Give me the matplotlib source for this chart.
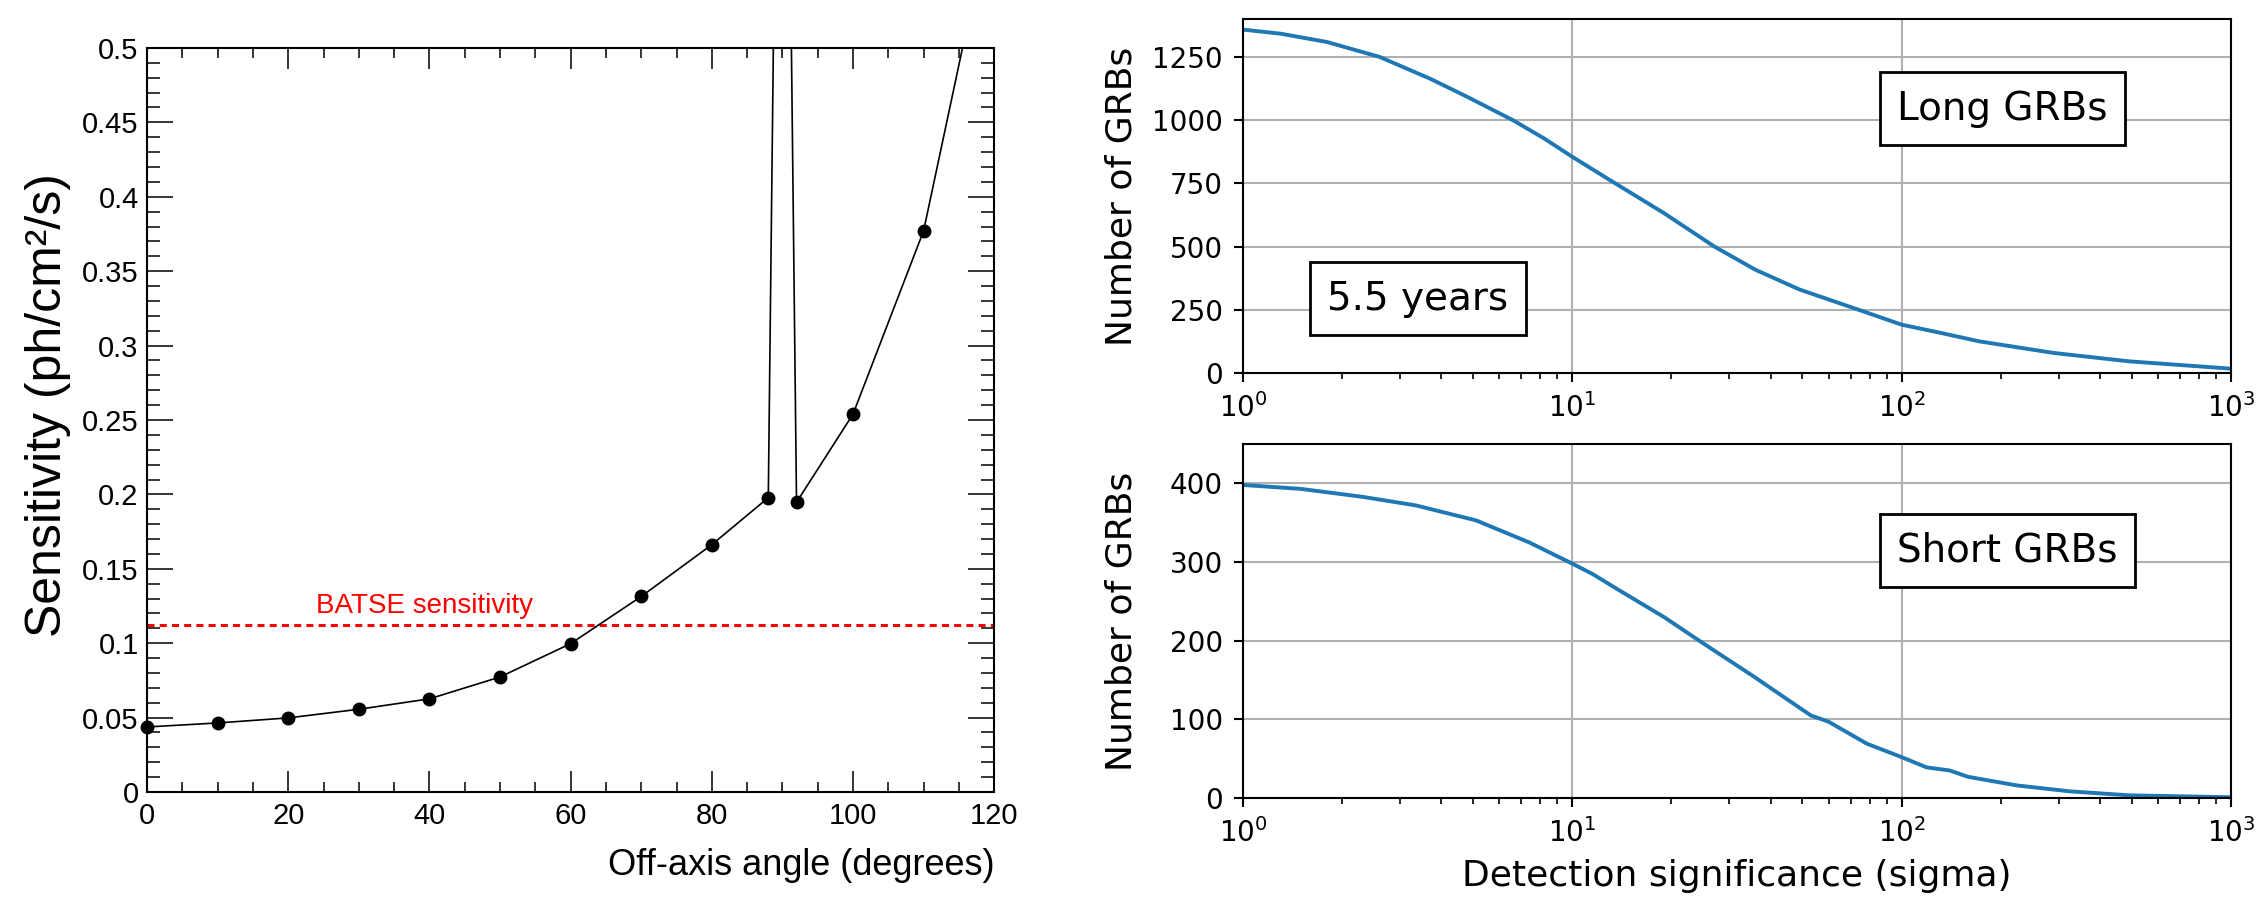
import matplotlib
matplotlib.use("Agg")
import matplotlib.pyplot as plt
import numpy as np
from matplotlib.ticker import FuncFormatter, MultipleLocator

# left panel: on-axis sensitivity vs off-axis angle
angle_deg = [0, 10, 20, 30, 40, 50, 60, 70, 80, 88, 90, 92, 100, 110, 120]
sensitivity = [0.0437, 0.0464, 0.0498, 0.0556, 0.0626, 0.0773, 0.0997, 0.1314,
               0.1662, 0.1978, 1.04, 0.1947, 0.2539, 0.3771, 0.60]
batse_level = 0.112

# right panels: cumulative number of GRBs above a detection significance
long_sigma = [1, 1.3, 1.8, 2.6, 3.7, 4.8, 6.6, 8.2, 10, 13.5, 19, 27, 36, 49,
              74, 100, 132, 172, 290, 490, 1000]
long_count = [1358, 1342, 1309, 1250, 1164, 1092, 1000, 928, 855, 750, 632,
              500, 408, 330, 250, 191, 158, 125, 79, 46, 17]
short_sigma = [1, 1.5, 2.3, 3.35, 5.1, 7.4, 10, 11.5, 13.9, 19, 24.7, 35.7,
               53, 60, 78.5, 100, 119, 140, 159, 224, 324, 493, 1000]
short_count = [398, 393, 383, 372, 353, 325, 298, 285, 264, 230, 198, 154,
               105, 97, 69, 52, 39, 35, 27, 16, 8.5, 3.4, 1]

ROOT_FONT = "Liberation Sans"

fig = plt.figure(figsize=(22.59, 9), dpi=100)

# ---- left: ROOT-style sensitivity plot ----
ax = fig.add_axes([0.0651, 0.12, 0.375, 0.8267])
ax.set_xlim(0, 120)
ax.set_ylim(0, 0.5)
ax.plot(angle_deg, sensitivity, color="black", lw=1.2, zorder=3)
x = np.array(angle_deg)
y = np.array(sensitivity)
inside = y <= 0.5
ax.plot(x[inside], y[inside], "o", color="black", ms=9, clip_on=False, zorder=4)
ax.axhline(batse_level, color="#ff0000", lw=2.2, ls=(0, (2.3, 1.7)), zorder=2)
ax.text(24, 0.1203, "BATSE sensitivity", color="#ff0000", fontsize=20,
        fontfamily=ROOT_FONT, va="baseline")

ax.xaxis.set_major_locator(MultipleLocator(20))
ax.xaxis.set_minor_locator(MultipleLocator(5))
ax.yaxis.set_major_locator(MultipleLocator(0.05))
ax.yaxis.set_minor_locator(MultipleLocator(0.01))
ax.yaxis.set_major_formatter(FuncFormatter(lambda v, _: f"{v:g}"))
ax.tick_params(which="both", direction="in", top=True, right=True,
               labelsize=21, labelfontfamily=ROOT_FONT, width=1.1)
ax.tick_params(axis="x", which="major", length=15, pad=7)
ax.tick_params(axis="x", which="minor", length=7.5)
ax.tick_params(axis="y", which="major", length=18.5, pad=6)
ax.tick_params(axis="y", which="minor", length=9.5)
for sp in ax.spines.values():
    sp.set_linewidth(1.5)

ax.set_xlabel("Off-axis angle (degrees)", fontsize=26, fontfamily=ROOT_FONT,
              ha="right")
ax.xaxis.set_label_coords(1.0, -0.075)
ax.set_ylabel("Sensitivity (ph/cm²/s)", fontsize=36, fontfamily=ROOT_FONT)
ax.yaxis.set_label_coords(-0.09, 0.52)

# ---- right: GRB counts ----
def grb_panel(rect, sigma, count, ymax, yticks, label, label_pos):
    a = fig.add_axes(rect)
    a.set_axisbelow(True)
    a.grid(True, which="major", color="#b0b0b0", lw=1.5)
    a.plot(sigma, count, color="#1f77b4", lw=2.8)
    a.set_xscale("log")
    a.set_xlim(1, 1000)
    a.set_ylim(0, ymax)
    a.set_yticks(yticks)
    a.tick_params(which="major", direction="out", length=6.5, width=1.5,
                  labelsize=20, pad=8)
    a.tick_params(which="minor", direction="out", length=4, width=1.2)
    for sp in a.spines.values():
        sp.set_linewidth(1.5)
    a.set_ylabel("Number of GRBs", fontsize=26)
    a.yaxis.set_label_coords(-0.106, 0.5)
    a.text(label_pos[0], label_pos[1], label, transform=a.transAxes,
           ha="center", va="center", fontsize=28,
           bbox=dict(boxstyle="square,pad=0.45", fc="white", ec="black", lw=2))
    return a


top = grb_panel([0.5502, 0.5856, 0.4374, 0.3933], long_sigma, long_count,
                1400, [0, 250, 500, 750, 1000, 1250], "Long GRBs", (0.769, 0.746))
top.text(0.177, 0.21, "5.5 years", transform=top.transAxes, ha="center",
         va="center", fontsize=28,
         bbox=dict(boxstyle="square,pad=0.45", fc="white", ec="black", lw=2))

bottom = grb_panel([0.5502, 0.1133, 0.4374, 0.3933], short_sigma, short_count,
                   450, [0, 100, 200, 300, 400], "Short GRBs", (0.774, 0.698))
bottom.set_xlabel("Detection significance (sigma)", fontsize=26, labelpad=8)

fig.savefig("out.png", dpi=100)
